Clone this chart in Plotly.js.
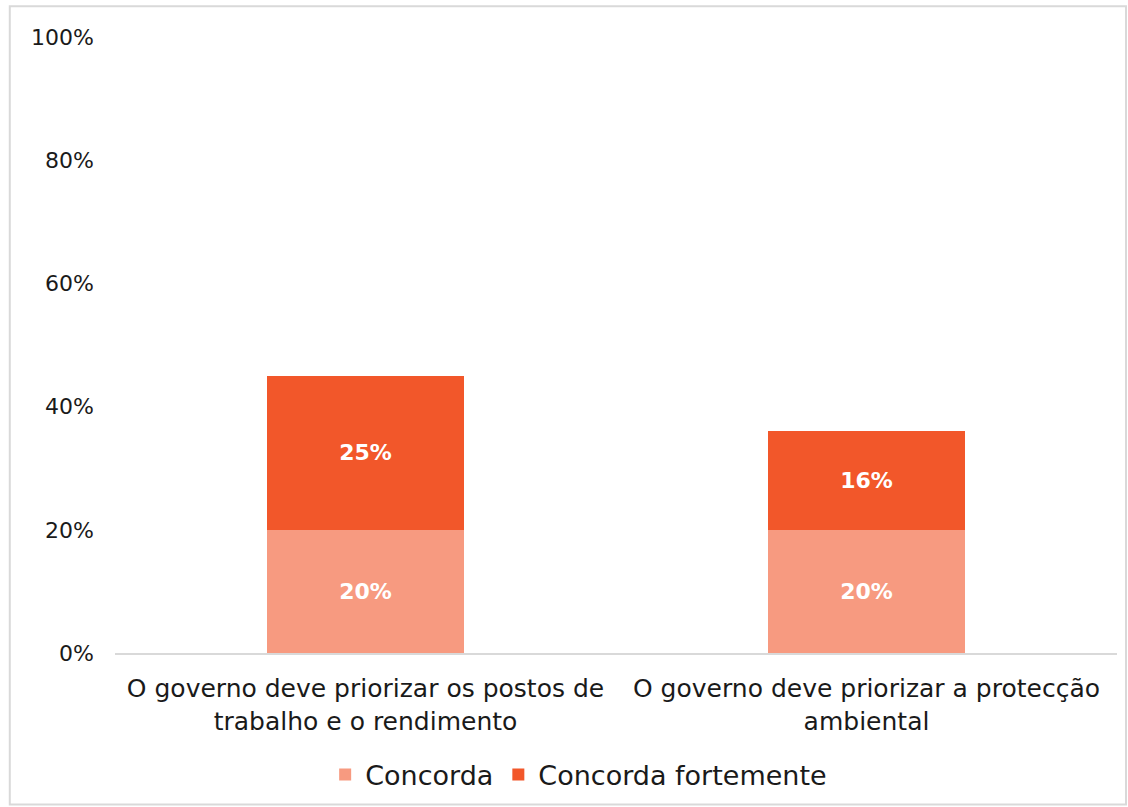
<!DOCTYPE html>
<html>
<head>
<meta charset="utf-8">
<script src="https://cdn.plot.ly/plotly-3.0.1.min.js"></script>
<style>html,body{margin:0;padding:0;background:#fff;}</style>
</head>
<body>
<div id="chart" style="width:1128px;height:807px;"></div>
<script>
const categories = [
  "O governo deve priorizar os postos de<br>trabalho e o rendimento",
  "O governo deve priorizar a protecção<br>ambiental"
];
const seriesNames = ["Concorda", "Concorda fortemente"];
const concorda = [20, 20];
const concordaFortemente = [25, 16];
const yTicks = [0, 20, 40, 60, 80, 100];

const FONT = "'DejaVu Sans', sans-serif";

const labelFont = {color: "#ffffff", size: 22, family: FONT, weight: "bold"};
const traces = [
  {
    type: "bar", name: seriesNames[0], x: categories, y: concorda,
    marker: {color: "#F79A80"},
    text: concorda.map(v => v + "%"), texttemplate: "%{text}",
    textposition: "inside", insidetextanchor: "middle",
    textfont: labelFont, constraintext: "none",
    hoverinfo: "skip"
  },
  {
    type: "bar", name: seriesNames[1], x: categories, y: concordaFortemente,
    marker: {color: "#F2572A"},
    text: concordaFortemente.map(v => v + "%"), texttemplate: "%{text}",
    textposition: "inside", insidetextanchor: "middle",
    textfont: labelFont, constraintext: "none",
    hoverinfo: "skip"
  }
];

const layout = {
  width: 1128, height: 807,
  margin: {l: 115, r: 11, t: 37, b: 154},
  barmode: "stack",
  bargap: 0.605,
  paper_bgcolor: "#ffffff", plot_bgcolor: "#ffffff",
  font: {family: FONT, color: "#1a1a1a", size: 22},
  xaxis: {
    showgrid: false, showline: true, linecolor: "#d9d9d9", linewidth: 2,
    ticks: "", tickfont: {size: 25, color: "#1a1a1a"}, automargin: false,
    ticklabelstandoff: 12
  },
  yaxis: {
    range: [0, 100], tickvals: yTicks, ticktext: yTicks.map(v => v + "%"),
    showgrid: false, zeroline: false, showline: false, ticks: "",
    tickfont: {size: 22, color: "#1a1a1a"}, ticklabelstandoff: 20, automargin: false
  },
  legend: {
    orientation: "h", xref: "container", yref: "container",
    x: 0.513, xanchor: "center", y: 0.0397, yanchor: "middle",
    bgcolor: "rgba(0,0,0,0)", itemwidth: 30,
    font: {size: 27, color: "#1a1a1a"}, traceorder: "normal"
  },
  showlegend: true,
  shapes: [{
    type: "rect", xref: "paper", yref: "paper",
    x0: -0.105, x1: 1.009, y0: -0.246, y1: 1.05,
    line: {color: "#d9d9d9", width: 2}, fillcolor: "rgba(0,0,0,0)", layer: "below"
  }]
};

Plotly.newPlot("chart", traces, layout, {staticPlot: true, displayModeBar: false});
</script>
</body>
</html>
